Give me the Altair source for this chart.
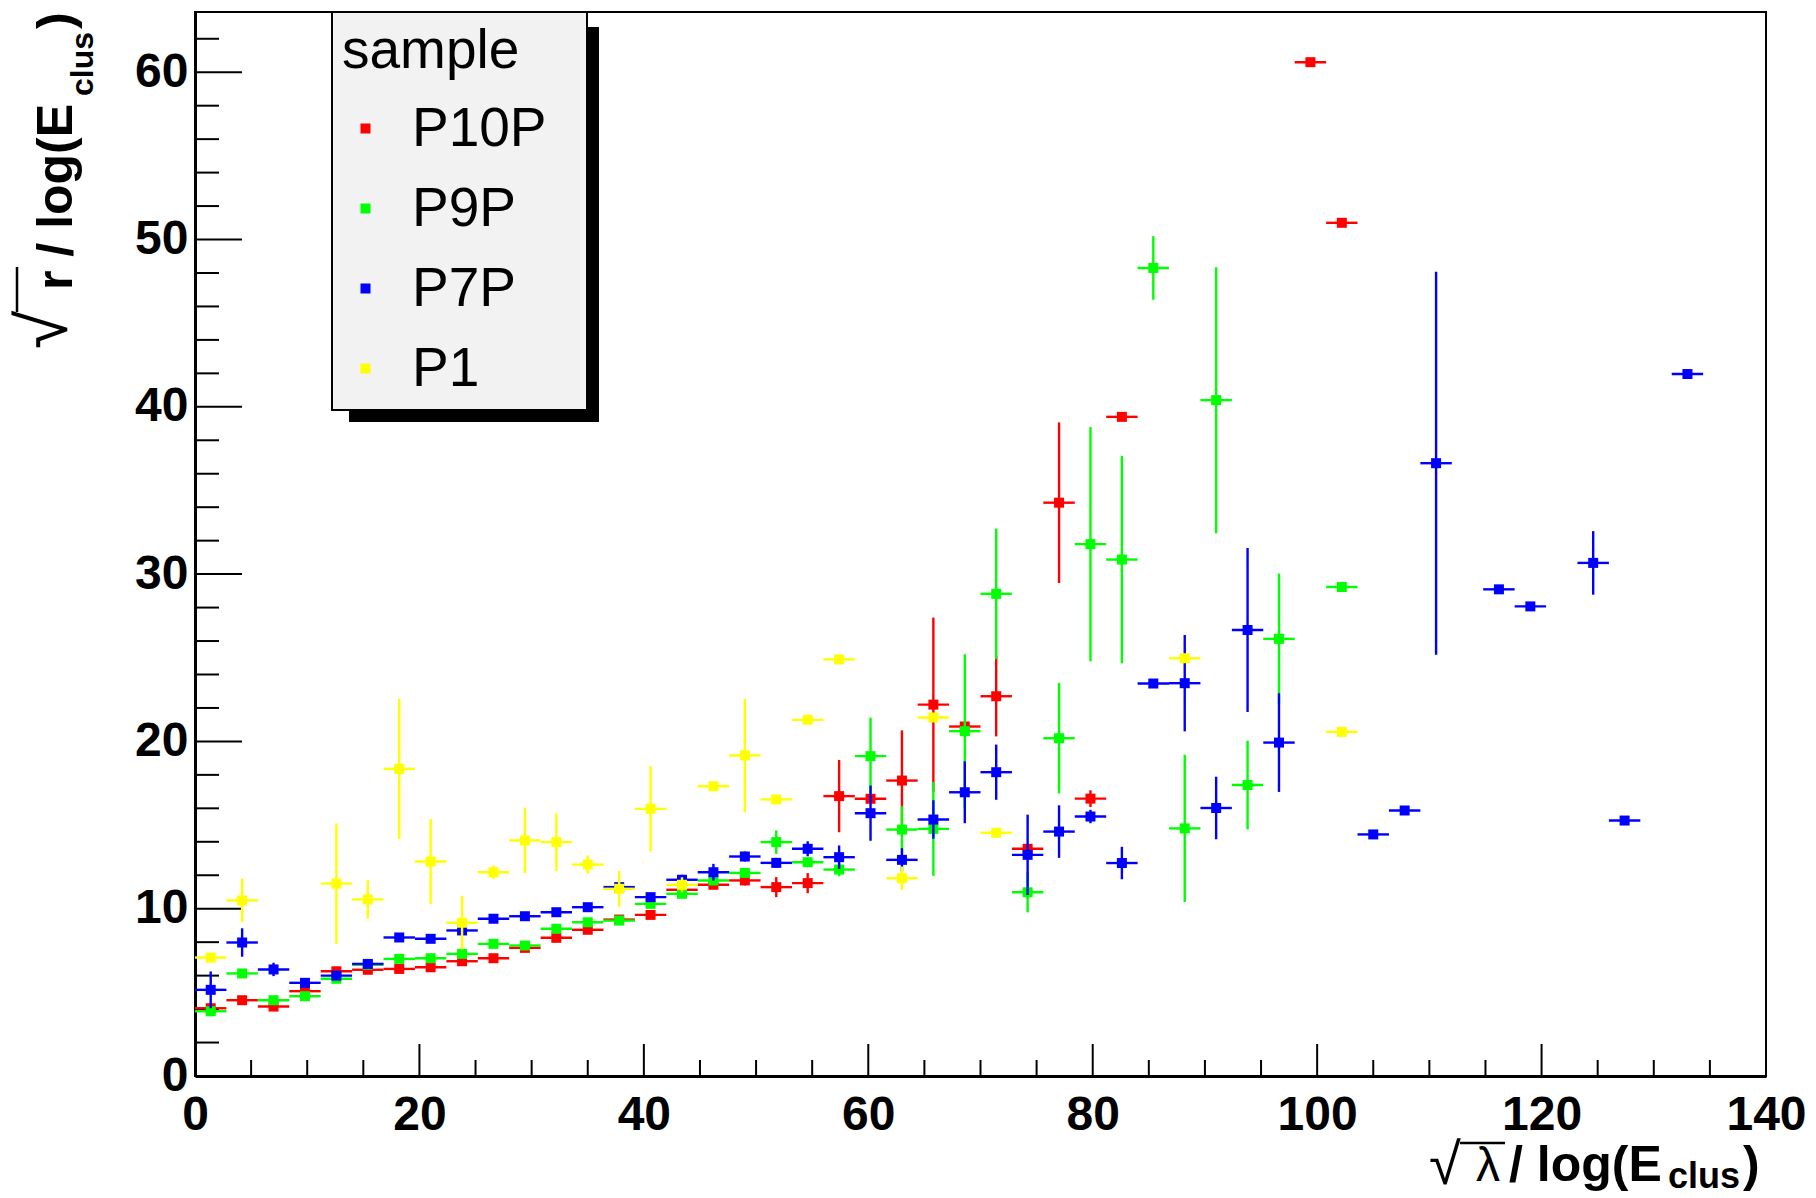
import altair as alt
import pandas as pd

series = ["P10P", "P9P", "P7P", "P1"]
colors = ["#ff0000", "#00ff00", "#0000ff", "#ffff00"]
bin_half = 1.4

# P10P (red)
p10p_x = [1.4, 4.2, 7.0, 9.8, 12.6, 15.4, 18.2, 21.0, 23.8, 26.6, 29.4, 32.2, 35.0, 37.8, 40.6,
          43.4, 46.2, 49.0, 51.8, 54.6, 57.4, 60.2, 63.0, 65.8, 68.6, 71.4, 74.2, 77.0, 79.8, 82.6,
          99.4, 102.2]
p10p_y = [4.05, 4.53, 4.15, 5.07, 6.26, 6.35, 6.4, 6.5, 6.86, 7.04, 7.66, 8.26, 8.74, 9.35, 9.63,
          11.13, 11.43, 11.69, 11.29, 11.53, 16.73, 16.57, 17.66, 22.2, 20.89, 22.7, 13.58, 34.27, 16.58, 39.4,
          60.6, 51.0]
p10p_e = [0.2, 0.15, 0.2, 0.15, 0.2, 0.1, 0.1, 0.1, 0.1, 0.2, 0.1, 0.1, 0.1, 0.1, 0.1,
          0.25, 0.2, 0.3, 0.6, 0.6, 2.16, 0.25, 3.0, 5.2, 0.2, 2.4, 0.3, 4.8, 0.5, 0.1,
          0.1, 0.1]

# P9P (green)
p9p_x = [1.4, 4.2, 7.0, 9.8, 12.6, 15.4, 18.2, 21.0, 23.8, 26.6, 29.4, 32.2, 35.0, 37.8, 40.6,
         43.4, 46.2, 49.0, 51.8, 54.6, 57.4, 60.2, 63.0, 65.8, 68.6, 71.4, 74.2, 77.0, 79.8, 82.6,
         85.4, 88.2, 91.0, 93.8, 96.6, 102.2]
p9p_y = [3.87, 6.13, 4.53, 4.77, 5.81, 6.65, 7.0, 7.04, 7.3, 7.9, 7.8, 8.8, 9.19, 9.29, 10.29,
         10.89, 11.69, 12.14, 13.98, 12.78, 12.34, 19.12, 14.73, 14.77, 20.61, 28.82, 10.98, 20.19, 31.79, 30.87,
         48.3, 14.8, 40.4, 17.39, 26.13, 29.23]
p9p_e = [0.3, 0.2, 0.15, 0.1, 0.15, 0.1, 0.1, 0.1, 0.1, 0.1, 0.1, 0.1, 0.1, 0.1, 0.1,
         0.2, 0.2, 0.15, 0.7, 0.2, 0.4, 2.3, 1.4, 2.8, 4.6, 3.9, 1.2, 3.3, 7.0, 6.2,
         1.9, 4.4, 7.95, 2.65, 3.9, 0.1]

# P7P (blue)
p7p_x = [1.4, 4.2, 7.0, 9.8, 12.6, 15.4, 18.2, 21.0, 23.8, 26.6, 29.4, 32.2, 35.0, 37.8, 40.6,
         43.4, 46.2, 49.0, 51.8, 54.6, 57.4, 60.2, 63.0, 65.8, 68.6, 71.4, 74.2, 77.0, 79.8, 82.6,
         85.4, 88.2, 91.0, 93.8, 96.6, 105.0, 107.8, 110.6, 116.2, 119.0, 124.6, 127.4, 133.0]
p7p_y = [5.15, 7.98, 6.37, 5.57, 6.0, 6.7, 8.28, 8.2, 8.7, 9.4, 9.55, 9.79, 10.09, 11.29, 10.69,
         11.73, 12.18, 13.12, 12.74, 13.58, 13.08, 15.71, 12.92, 15.33, 16.96, 18.16, 13.22, 14.61, 15.51, 12.73,
         23.46, 23.48, 16.02, 26.66, 19.93, 14.44, 15.87, 36.63, 29.09, 28.07, 30.67, 15.27, 41.96]
p7p_e = [1.1, 0.85, 0.4, 0.15, 0.15, 0.1, 0.1, 0.1, 0.1, 0.1, 0.1, 0.1, 0.1, 0.15, 0.1,
         0.3, 0.5, 0.3, 0.3, 0.45, 0.7, 1.65, 0.7, 1.15, 1.85, 1.65, 2.4, 1.57, 0.4, 0.97,
         0.1, 2.88, 1.87, 4.9, 2.95, 0.1, 0.1, 11.45, 0.1, 0.1, 1.9, 0.1, 0.1]

# P1 (yellow)
p1_x = [1.4, 4.2, 12.6, 15.4, 18.2, 21.0, 23.8, 26.6, 29.4, 32.2, 35.0, 37.8, 40.6,
        43.4, 46.2, 49.0, 51.8, 54.6, 57.4, 63.0, 65.8, 71.4, 88.2, 102.2]
p1_y = [7.08, 10.5, 11.5, 10.55, 18.36, 12.82, 9.16, 12.18, 14.08, 13.98, 12.64, 11.19, 15.97,
        11.43, 17.32, 19.16, 16.53, 21.29, 24.9, 11.82, 21.43, 14.54, 24.97, 20.57]
p1_e = [0.1, 1.3, 3.6, 1.15, 4.2, 2.55, 1.6, 0.4, 1.96, 1.72, 0.55, 1.08, 2.55,
        0.45, 0.1, 3.4, 0.1, 0.1, 0.1, 0.7, 0.1, 0.1, 0.1, 0.1]

x_major = [0, 20, 40, 60, 80, 100, 120, 140]
x_minor = [v for v in range(0, 141, 5) if v % 20 != 0]
y_major = [0, 10, 20, 30, 40, 50, 60]
y_minor = [v for v in range(0, 63, 2) if v % 10 != 0]

raw = {"P10P": (p10p_x, p10p_y, p10p_e), "P9P": (p9p_x, p9p_y, p9p_e),
       "P7P": (p7p_x, p7p_y, p7p_e), "P1": (p1_x, p1_y, p1_e)}
rows = []
for s in series:
    xs, ys, es = raw[s]
    for xv, yv, ev in zip(xs, ys, es):
        rows.append({"sample": s, "x": xv, "y": yv, "ylo": yv - ev, "yhi": yv + ev,
                     "xlo": xv - bin_half, "xhi": xv + bin_half})
df = pd.DataFrame(rows)

W, H = 1571, 1064
xs_ = alt.Scale(domain=[0, 140], nice=False, zero=False)
ys_ = alt.Scale(domain=[0, 63.6], nice=False, zero=False)
FONT = "Liberation Sans, Arial, Helvetica, sans-serif"
XAX = alt.Axis(title=None, values=x_major)
YAX = alt.Axis(title=None, values=y_major)

legend = alt.Legend(
    orient="none", legendX=137, legendY=3, direction="vertical",
    title="sample", titleFont=FONT, titleFontWeight="normal", titleFontSize=55,
    titleColor="black", titlePadding=21, labelFont=FONT, labelFontSize=55,
    labelColor="black", symbolType="square", symbolSize=100, symbolStrokeWidth=0,
    symbolOffset=-4, labelOffset=19, padding=10, rowPadding=24,
)

layers = []

# legend shadow and box (drawn below the legend's own text)
layers.append(alt.Chart(alt.Data(values=[{}])).mark_rect(color="black").encode(
    x=alt.value(154), x2=alt.value(404), y=alt.value(15), y2=alt.value(410)))
layers.append(alt.Chart(alt.Data(values=[{}])).mark_rect(
    fill="#f2f2f2", stroke="black", strokeWidth=2).encode(
    x=alt.value(137), x2=alt.value(392), y=alt.value(0), y2=alt.value(398)))

# inward ticks
for vals, length in ((y_major, 47), (y_minor, 24)):
    layers.append(alt.Chart(pd.DataFrame({"v": vals})).mark_rule(color="black", strokeWidth=2).encode(
        y=alt.Y("v:Q", scale=ys_, axis=YAX),
        x=alt.value(0), x2=alt.value(length)))
for vals, length in ((x_major, 32), (x_minor, 16)):
    layers.append(alt.Chart(pd.DataFrame({"v": vals})).mark_rule(color="black", strokeWidth=2).encode(
        x=alt.X("v:Q", scale=xs_, axis=XAX),
        y=alt.value(H), y2=alt.value(H - length)))

for s, c in zip(series, colors):
    base = alt.Chart(df).transform_filter(alt.datum.sample == s)
    layers.append(base.mark_rule(color=c, strokeWidth=2.4).encode(
        x=alt.X("x:Q", scale=xs_, axis=XAX),
        y=alt.Y("ylo:Q", scale=ys_, axis=YAX), y2="yhi:Q"))
    layers.append(base.mark_rule(color=c, strokeWidth=2.4).encode(
        x=alt.X("xlo:Q", scale=xs_, axis=XAX), x2="xhi:Q",
        y=alt.Y("y:Q", scale=ys_, axis=YAX)))
    layers.append(base.mark_point(filled=True, shape="square", size=100, opacity=1, strokeWidth=0).encode(
        x=alt.X("x:Q", scale=xs_, axis=XAX),
        y=alt.Y("y:Q", scale=ys_, axis=YAX),
        color=alt.Color("sample:N", scale=alt.Scale(domain=series, range=colors), legend=legend)))


def txt(t, x, y, size, weight="bold", angle=0):
    return alt.Chart(alt.Data(values=[{"t": t}])).mark_text(
        font=FONT, fontSize=size, fontWeight=weight, align="left", baseline="alphabetic",
        angle=angle, color="black").encode(text="t:N", x=alt.value(x), y=alt.value(y))


def bar(x1, x2, y1, y2):
    return alt.Chart(alt.Data(values=[{}])).mark_rule(color="black", strokeWidth=2.5).encode(
        x=alt.value(x1), x2=alt.value(x2), y=alt.value(y1), y2=alt.value(y2))


# x-axis title: sqrt(lambda) / log(E_clus)
layers += [
    txt("\u221a", 1234, 1172, 58, "normal"),
    bar(1265, 1310, 1131, 1131),
    txt("\u03bb", 1281, 1169, 48, "normal"),
    txt("/ log(E", 1314, 1169, 50),
    txt("clus", 1473, 1176, 36),
    txt(")", 1548, 1169, 50),
]
# y-axis title: sqrt(r) / log(E_clus)
layers += [
    txt("\u221a", -128, 337, 70, "normal", 270),
    bar(-178, -178, 300, 255),
    txt("r / log(E", -123, 278, 50, "bold", 270),
    txt("clus", -102, 84, 32, "bold", 270),
    txt(")", -123, 17, 50, "bold", 270),
]

chart = alt.layer(*layers).properties(
    width=W, height=H,
    padding={"left": 195, "top": 12, "right": 50, "bottom": 122},
    autosize=alt.AutoSizeParams(type="none"),
).configure(background="white").configure_view(
    stroke="black", strokeWidth=2
).configure_axis(
    labelFont=FONT, labelFontWeight="bold", labelFontSize=48, labelColor="black",
    ticks=False, tickSize=0, domainColor="black", domainWidth=3, grid=False,
    labelOverlap=False, labelFlush=False,
).configure_axisY(labelPadding=7).configure_axisX(labelPadding=15)

chart.save("out.html", embed_options={"renderer": "svg", "actions": False})
